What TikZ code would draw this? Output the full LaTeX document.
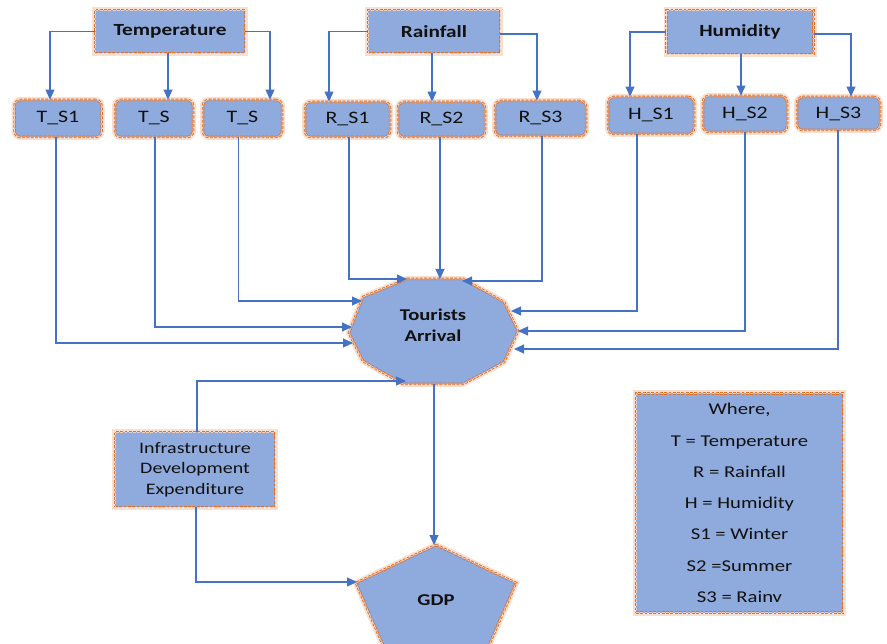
\documentclass[tikz,border=0pt]{standalone}
\usepackage{fontspec}
\setmainfont{Carlito}[FakeStretch=1.25]
\usetikzlibrary{arrows.meta,calc}
\definecolor{boxblue}{HTML}{8FAADC}
\definecolor{borange}{HTML}{E06F28}
\definecolor{conncol}{HTML}{4472C4}
\definecolor{txt}{HTML}{111111}
\tikzset{
  glowbox/.style={fill=boxblue, draw=borange, line width=0.9pt, double=borange!35!white, double distance=0.7pt,
    dash pattern=on 2.8pt off 1.5pt, preaction={draw=borange!22, line width=6pt, solid},
    text=txt, inner sep=0pt, align=center},
  hdrbox/.style={glowbox, font=\fontsize{17}{20}\selectfont\bfseries},
  subbox/.style={glowbox, rounded corners=6pt, font=\fontsize{17.5}{20}\selectfont},
  conn/.style={draw=conncol, line width=1.1pt, -{Triangle[length=10pt,width=9pt]}}
}
\begin{document}
\begin{tikzpicture}[x=1pt,y=-1pt]
\useasboundingbox (0,0) rectangle (887,644);
\clip (0,0) rectangle (887,644);
% header boxes
\node[hdrbox, minimum width=150, minimum height=43] (Temp) at (170,31.5) {Temperature};
\node[hdrbox, minimum width=132, minimum height=43] (Rain) at (434,31.5) {Rainfall};
\node[hdrbox, minimum width=147, minimum height=44] (Hum) at (740,32) {Humidity};
% season boxes
\node[subbox, minimum width=87, minimum height=37] (TS1) at (58,118.5) {T\_S1};
\node[subbox, minimum width=78, minimum height=37] (TS2) at (154,118.5) {T\_S};
\node[subbox, minimum width=79, minimum height=37] (TS3) at (242.5,118.5) {T\_S};
\node[subbox, minimum width=85, minimum height=35] (RS1) at (347.5,119.5) {R\_S1};
\node[subbox, minimum width=87, minimum height=35] (RS2) at (441.5,119.5) {R\_S2};
\node[subbox, minimum width=91, minimum height=35] (RS3) at (540.5,118.5) {R\_S3};
\node[subbox, minimum width=86, minimum height=37] (HS1) at (651,115.5) {H\_S1};
\node[subbox, minimum width=84, minimum height=36] (HS2) at (745,114) {H\_S2};
\node[subbox, minimum width=83, minimum height=33] (HS3) at (838.5,113.5) {H\_S3};
% Tourists Arrival polygon
\path[glowbox] (407,279) -- (463,279) -- (504,302) -- (518,331) -- (504,362) -- (463,384)
  -- (403,384) -- (363,361) -- (349,333) -- (363,297) -- cycle;
\node[text=txt, align=center, font=\fontsize{16.5}{21}\selectfont\bfseries] (TA) at (433,325) {Tourists\\Arrival};
\coordinate (ta1) at (353,343);
\coordinate (ta2) at (352,327);
\coordinate (ta3) at (362,301);
\coordinate (taR1) at (407,279);
\coordinate (taR2) at (440,279);
\coordinate (taR3) at (462,281);
\coordinate (taH1) at (511,311);
\coordinate (taH2) at (518,331);
\coordinate (taH3) at (514,349);
\coordinate (taI) at (406,381);
\coordinate (taB) at (434,384);
% GDP pentagon
\path[glowbox] (436,545) -- (516,583) -- (486,652) -- (386,652) -- (356,583) -- cycle;
\node[text=txt, font=\fontsize{16.5}{18}\selectfont\bfseries] (GDP) at (436,600) {GDP};
\coordinate (gdpTop) at (434,545);
\coordinate (gdpL) at (357,582);
% Infrastructure
\node[glowbox, minimum width=160, minimum height=75, font=\fontsize{16}{20.5}\selectfont] (Inf) at (195,469.5)
  {Infrastructure\\Development\\Expenditure};
% Legend
\node[glowbox, minimum width=207, minimum height=219, font=\fontsize{16.5}{31.3}\selectfont] (Leg) at (739.5,503)
  {Where,\\T = Temperature\\R = Rainfall\\H = Humidity\\S1 = Winter\\S2 =Summer\\S3 = Rainv};
% header -> season arrows
\draw[conn] (Temp.west) -| ([xshift=-8pt]TS1.north);
\draw[conn] ([xshift=-2pt]Temp.south) -- ([xshift=-2pt]Temp.south |- TS2.north);
\draw[conn] (Temp.east) -| ([xshift=27.5pt]TS3.north);
\draw[conn] (Rain.west) -| ([xshift=-18.5pt]RS1.north);
\draw[conn] ([xshift=-2pt]Rain.south) -- ([xshift=-2pt]Rain.south |- RS2.north);
\draw[conn] ([yshift=-2.5pt]Rain.east) -| ([xshift=-3.5pt]RS3.north);
\draw[conn] (Hum.west) -| ([xshift=-21pt]HS1.north);
\draw[conn] ([xshift=1pt]Hum.south) -- ([xshift=1pt]Hum.south |- HS2.north);
\draw[conn] ([yshift=-2pt]Hum.east) -| ([xshift=12.5pt]HS3.north);
% season -> Tourists Arrival
\draw[conn] ([xshift=-2pt]TS1.south) |- (ta1);
\draw[conn] ([xshift=1pt]TS2.south) |- (ta2);
\draw[conn] ([xshift=-4pt]TS3.south) |- (ta3);
\draw[conn] ([xshift=1.5pt]RS1.south) |- (taR1);
\draw[conn] ([xshift=-1.5pt]RS2.south) -- (taR2);
\draw[conn] ([xshift=1.5pt]RS3.south) |- (taR3);
\draw[conn] ([xshift=-14pt]HS1.south) |- (taH1);
\draw[conn] (HS2.south) |- (taH2);
\draw[conn] ([xshift=-0.5pt]HS3.south) |- (taH3);
% infrastructure and GDP
\draw[conn] ([xshift=2pt]Inf.north) |- (taI);
\draw[conn] ([xshift=1pt]Inf.south) |- (gdpL);
\draw[conn] (taB) -- (gdpTop);
\end{tikzpicture}
\end{document}
